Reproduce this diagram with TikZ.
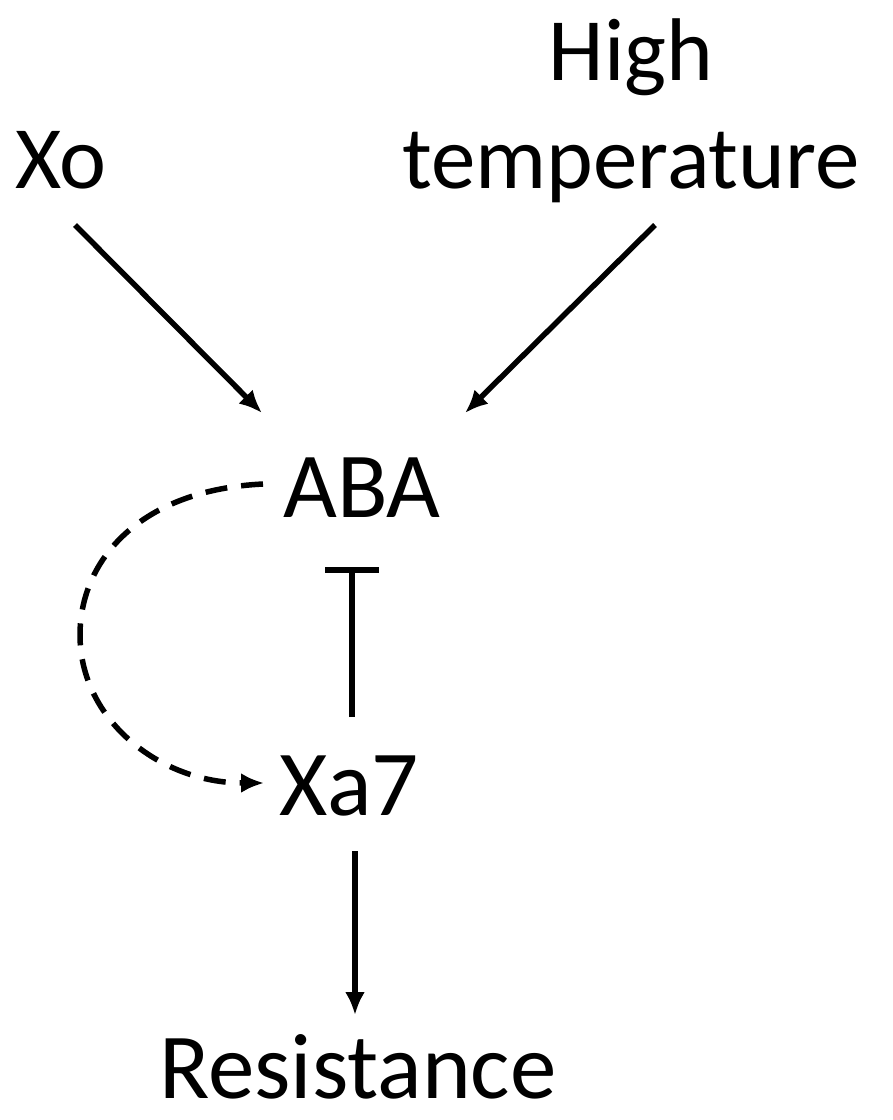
\documentclass[tikz,border=0pt]{standalone}
\usepackage{fontspec}
\setmainfont{Carlito}
\usetikzlibrary{arrows.meta}

\tikzset{
  label/.style={font=\fontsize{89}{100}\selectfont, inner sep=0pt, anchor=base},
  biglabel/.style={label, font=\fontsize{93}{100}\selectfont},
  act/.style={line width=5.5pt, -{Latex[length=23pt,width=20pt]}},
  inhib/.style={line width=5.5pt, -{Bar[width=54pt,line width=5.5pt]}},
}

\begin{document}
\begin{tikzpicture}[x=1pt,y=-1pt]
            \useasboundingbox (0,0) rectangle (893,1120);

            % Labels
            \node[label] (xo) at (61,188) {Xo};
            \node[label] (high) at (631,80) {High};
            \node[label] (temp) at (631,188) {temperature};
            \node[biglabel] (aba) at (362,517) {ABA};
            \node[biglabel] (xa) at (349,815) {Xa7};
            \node[biglabel] (res) at (358,1098) {Resistance};

            % Arrow ends
            \coordinate (xoEnd) at (75,225);
            \coordinate (tempEnd) at (655,225);
            \coordinate (abaL) at (262,413);
            \coordinate (abaR) at (465,413);

            % Xo and high temperature act on ABA
            \draw[act] (xoEnd) -- (abaL);
            \draw[act] (tempEnd) -- (abaR);

            % Xa7 inhibits ABA
            \draw[inhib] (352,717) -- (352,567);

            % ABA acts on Xa7 (dashed loop)
            \draw[act, dash pattern=on 22pt off 14pt]
                (263,484) .. controls (140,490) and (80,560) .. (80,635)
                .. controls (80,720) and (160,783) .. (264,783);

            % Xa7 gives resistance
            \draw[act] (355,851) -- (355,1015);
        \end{tikzpicture}
\end{document}
